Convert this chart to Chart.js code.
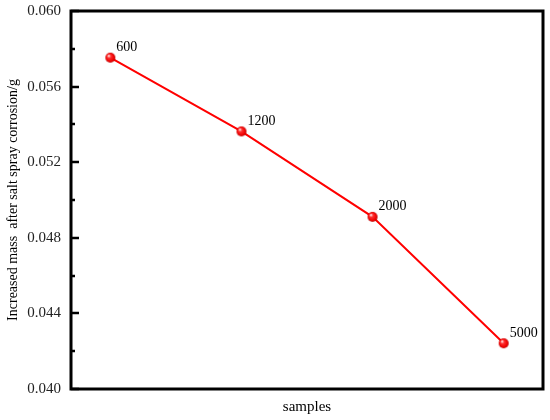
<!DOCTYPE html>
<html>
<head>
<meta charset="utf-8">
<script src="https://cdn.jsdelivr.net/npm/chart.js@4.4.0/dist/chart.umd.min.js"></script>
<style>
  html, body { margin: 0; padding: 0; background: #ffffff; }
  #wrap { width: 550px; height: 420px; }
</style>
</head>
<body>
<div id="wrap"><canvas id="saltChart" width="550" height="420"></canvas></div>
<script>
// ---------------- Data ----------------------------------------------------
var sampleLabels = [ '600', '1200', '2000', '5000' ] ;
var massGain     = [ 0.05753, 0.05363, 0.04911, 0.04242 ] ;
var yTickValues  = [ 0.040, 0.044, 0.048, 0.052, 0.056, 0.060 ] ;
var yMinorValues = [ 0.042, 0.046, 0.050, 0.054, 0.058 ] ;

var serif = '"Liberation Serif", "DejaVu Serif", serif' ;

// ---------------- Ball-shaped marker ---------------------------------------
function makeBall( r ) {
    var c = document.createElement( 'canvas' ) ;
    c.width = c.height = r * 2 + 2 ;
    var ctx = c.getContext( '2d' ) ;
    var cx = r + 1, cy = r + 1 ;
    var g = ctx.createRadialGradient( cx - r * 0.35, cy - r * 0.4, 0.5, cx, cy, r ) ;
    g.addColorStop( 0,    '#ffe0e0' ) ;
    g.addColorStop( 0.3,  '#ff3030' ) ;
    g.addColorStop( 0.8,  '#ee0000' ) ;
    g.addColorStop( 1,    '#b00000' ) ;
    ctx.fillStyle = g ;
    ctx.beginPath() ;
    ctx.arc( cx, cy, r, 0, Math.PI * 2 ) ;
    ctx.fill() ;
    return c ;
}

// ---------------- Frame, inner ticks and point labels ----------------------
var framePlugin = {
    id : 'frame',
    afterDatasetsDraw : function( chart ) {
        var ctx = chart.ctx ;
        var a = chart.chartArea ;
        var y = chart.scales.y ;
        ctx.save() ;
        ctx.strokeStyle = '#000' ;
        ctx.lineWidth = 3 ;
        ctx.strokeRect( a.left, a.top, a.right - a.left, a.bottom - a.top ) ;

        ctx.lineWidth = 2.5 ;
        yTickValues.forEach( function( v ) {
            var py = Math.round( y.getPixelForValue( v ) ) ;
            ctx.beginPath() ;
            ctx.moveTo( a.left, py ) ;
            ctx.lineTo( a.left + 8, py ) ;
            ctx.stroke() ;
        } ) ;
        yMinorValues.forEach( function( v ) {
            var py = Math.round( y.getPixelForValue( v ) ) ;
            ctx.beginPath() ;
            ctx.moveTo( a.left, py ) ;
            ctx.lineTo( a.left + 4, py ) ;
            ctx.stroke() ;
        } ) ;

        // sample name beside each point
        var meta = chart.getDatasetMeta( 0 ) ;
        ctx.fillStyle = '#000' ;
        ctx.font = '14px ' + serif ;
        ctx.textBaseline = 'middle' ;
        ctx.textAlign = 'left' ;
        meta.data.forEach( function( pt, i ) {
            ctx.fillText( sampleLabels[i], pt.x + 6, pt.y - 10 ) ;
        } ) ;
        ctx.restore() ;
    }
} ;

var points = massGain.map( function( v, i ) { return { x : i, y : v } ; } ) ;

var chart = new Chart( document.getElementById( 'saltChart' ), {
    type : 'line',
    data : {
        datasets : [ {
            data             : points,
            borderColor      : '#ff0000',
            backgroundColor  : '#ff0000',
            borderWidth      : 2,
            tension          : 0,
            pointStyle       : makeBall( 5 ),
            pointRadius      : 5
        } ]
    },
    options : {
        responsive : false,
        animation : false,
        layout : { padding : { left : 5, top : 9, right : 7, bottom : 0 } },
        plugins : {
            legend  : { display : false },
            tooltip : { enabled : false }
        },
        scales : {
            x : {
                type : 'linear',
                min : -0.3,
                max : 3.3,
                grid : { display : false },
                border : { display : false },
                ticks : { display : false },
                title : {
                    display : true,
                    text : 'samples',
                    color : '#000',
                    font : { family : serif, size : 15 }
                },
                afterFit : function( s ) { s.height = 31 ; }
            },
            y : {
                min : 0.040,
                max : 0.060,
                grid : { display : false },
                border : { display : false },
                ticks : {
                    stepSize : 0.004,
                    color : '#222',
                    padding : 2,
                    font : { family : serif, size : 15 },
                    callback : function( v ) { return v.toFixed( 3 ) ; }
                },
                title : {
                    display : true,
                    text : 'Increased mass  after salt spray corrosion/g',
                    color : '#000',
                    font : { family : serif, size : 14 },
                    padding : { top : 0, bottom : 2 }
                },
                afterFit : function( s ) { s.width = 66 ; }
            }
        }
    },
    plugins : [ framePlugin ]
} ) ;
</script>
</body>
</html>
